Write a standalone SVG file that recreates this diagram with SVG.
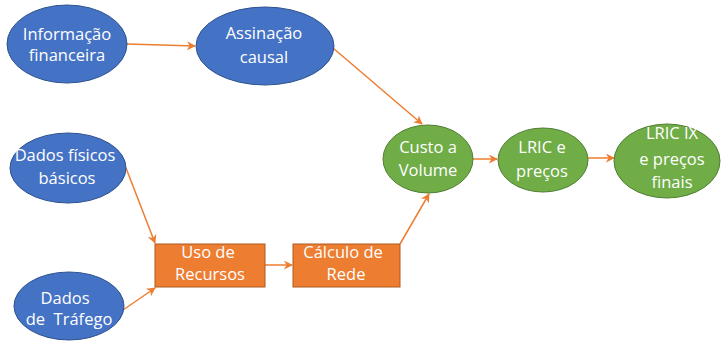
<svg xmlns="http://www.w3.org/2000/svg" width="721" height="341" viewBox="0 0 721 341">
<defs>
<marker id="ah" viewBox="0 0 10 10" refX="9" refY="5" markerWidth="9" markerHeight="9" markerUnits="userSpaceOnUse" orient="auto">
<path d="M0,0 L10,5 L0,10 L3,5 Z" fill="#ED7D31"/>
</marker>
<style>
.blue{fill:#4472C4;stroke:#2F528F;stroke-width:1}
.green{fill:#70AD47;stroke:#507E32;stroke-width:1}
.orange{fill:#ED7D31;stroke:#AE5A21;stroke-width:1}
text{font-family:"Open Sans","Liberation Sans",sans-serif;font-size:16.5px;fill:#fff;text-anchor:middle}
.edge{stroke:#ED7D31;stroke-width:1.5;fill:none;marker-end:url(#ah)}
</style>
</defs>
<rect width="721" height="341" fill="#fff"/>
<g id="connectors">
<line class="edge" x1="127" y1="44" x2="195" y2="46"/>
<line class="edge" x1="333" y1="48" x2="422" y2="124"/>
<line class="edge" x1="126" y1="168" x2="155" y2="243"/>
<line class="edge" x1="123" y1="310" x2="155" y2="288"/>
<line class="edge" x1="265" y1="265" x2="292" y2="265"/>
<line class="edge" x1="400" y1="244" x2="429" y2="194"/>
<line class="edge" x1="472" y1="159" x2="497" y2="159"/>
<line class="edge" x1="588" y1="158" x2="614" y2="158"/>
</g>
<g id="n_informacao">
<ellipse class="blue" cx="67" cy="44" rx="60" ry="39"/>
<text x="67" y="40">Informação</text>
<text x="67" y="61">financeira</text>
</g>
<g id="n_assinacao">
<ellipse class="blue" cx="265" cy="46" rx="69" ry="39"/>
<text x="264" y="39">Assinação</text>
<text x="264" y="63">causal</text>
</g>
<g id="n_dados_fisicos">
<ellipse class="blue" cx="68" cy="168" rx="58" ry="35"/>
<text x="65" y="161">Dados físicos</text>
<text x="67" y="184">básicos</text>
</g>
<g id="n_dados_trafego">
<ellipse class="blue" cx="69" cy="306" rx="55" ry="34"/>
<text x="65" y="304">Dados</text>
<text x="69" y="325" xml:space="preserve">de  Tráfego</text>
</g>
<g id="n_uso">
<rect class="orange" x="155" y="244" width="110" height="43"/>
<text x="208" y="258">Uso de</text>
<text x="210" y="280">Recursos</text>
</g>
<g id="n_calculo">
<rect class="orange" x="293" y="244" width="107" height="43"/>
<text x="343" y="258">Cálculo de</text>
<text x="346" y="280">Rede</text>
</g>
<g id="n_custo">
<ellipse class="green" cx="428" cy="159" rx="45" ry="34"/>
<text x="428" y="153">Custo a</text>
<text x="428" y="176">Volume</text>
</g>
<g id="n_lric">
<ellipse class="green" cx="543" cy="160" rx="45" ry="32"/>
<text x="542" y="153">LRIC e</text>
<text x="542" y="177">preços</text>
</g>
<g id="n_lricix">
<ellipse class="green" cx="667" cy="161" rx="53" ry="37"/>
<text x="672" y="139">LRIC IX</text>
<text x="672" y="165">e preços</text>
<text x="672" y="188">finais</text>
</g>
</svg>
